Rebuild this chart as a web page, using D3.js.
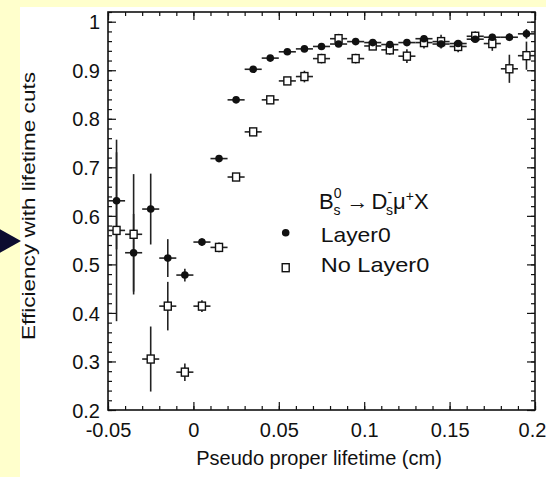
<!DOCTYPE html>
<html>
<head>
<meta charset="utf-8">
<script src="https://cdn.jsdelivr.net/npm/d3@7"></script>
<style>
  body { margin: 0; background: #ffffcc; }
  svg { display: block; }
  text { font-family: "Liberation Sans", Arial, sans-serif; fill: #111; }
</style>
</head>
<body>
<div id="chart"></div>
<script>
// bin centres (cm), bin half width is 0.005
var bins = [-0.045, -0.035, -0.025, -0.015, -0.005, 0.005, 0.015, 0.025, 0.035, 0.045, 0.055, 0.065,
            0.075, 0.085, 0.095, 0.105, 0.115, 0.125, 0.135, 0.145, 0.155, 0.165, 0.175, 0.185, 0.195]
var layer0 = [0.631, 0.524, 0.614, 0.513, 0.478, 0.546, 0.718, 0.839, 0.902, 0.925, 0.938, 0.944,
              0.949, 0.954, 0.959, 0.957, 0.953, 0.957, 0.965, 0.954, 0.955, 0.964, 0.968, 0.968, 0.975]
var layer0_err = [0.10, 0.08, 0.073, 0.039, 0.013, 0.008, 0.006, 0.006, 0.005, 0.005, 0.005, 0.005,
                  0.005, 0.005, 0.005, 0.005, 0.005, 0.005, 0.006, 0.006, 0.006, 0.006, 0.007, 0.008, 0.010]
var nolayer0 = [0.570, 0.562, 0.305, 0.414, 0.278, 0.414, 0.535, 0.680, 0.773, 0.839, 0.878, 0.887,
                0.924, 0.965, 0.924, 0.950, 0.942, 0.929, 0.957, 0.959, 0.949, 0.970, 0.955, 0.903, 0.930]
var nolayer0_err = [0.187, 0.124, 0.067, 0.050, 0.018, 0.012, 0.010, 0.008, 0.008, 0.008, 0.008, 0.012,
                    0.010, 0.010, 0.010, 0.008, 0.010, 0.014, 0.012, 0.014, 0.012, 0.010, 0.015, 0.029, 0.029]
var x_ticks = [-0.05, 0, 0.05, 0.1, 0.15, 0.2]
var x_tick_labels = ["-0.05", "0", "0.05", "0.1", "0.15", "0.2"]
var y_ticks = [0.2, 0.3, 0.4, 0.5, 0.6, 0.7, 0.8, 0.9, 1.0]
var y_tick_labels = ["0.2", "0.3", "0.4", "0.5", "0.6", "0.7", "0.8", "0.9", "1"]

var width = 546, height = 477
var bin_half = 0.005
var svg = d3.select("#chart").append("svg").attr("width", width).attr("height", height)

// white slide panel + the arrow sticking in from the left
svg.append("rect").attr("x", 20).attr("y", 7).attr("width", width - 20).attr("height", height - 7).attr("fill", "#fff")
svg.append("path").attr("d", "M-6,226L21,241L-6,256Z").attr("fill", "#0c0c30")

var x = d3.scaleLinear().domain([-0.05, 0.2]).range([108, 535])
var y = d3.scaleLinear().domain([0.2, 1.02]).range([410, 12])

var x_minor = d3.range(-0.05, 0.2001, 0.01)
var y_minor = d3.range(0.2, 1.0201, 0.02)

function fmt_x(d){ return x_tick_labels[x_ticks.indexOf(d)] }
function fmt_y(d){ return y_tick_labels[y_ticks.indexOf(d)] }

// ticks on all four sides, pointing inward
svg.append("g").attr("transform", "translate(0,410)")
    .call(d3.axisBottom(x).tickValues(x_minor).tickSize(-4).tickFormat(""))
svg.append("g").attr("transform", "translate(0,410)").attr("class", "xmaj")
    .call(d3.axisBottom(x).tickValues(x_ticks).tickSize(-8).tickPadding(12.5).tickFormat(fmt_x))
svg.append("g").attr("transform", "translate(0,12)")
    .call(d3.axisTop(x).tickValues(x_minor).tickSize(-4).tickFormat(""))
svg.append("g").attr("transform", "translate(0,12)")
    .call(d3.axisTop(x).tickValues(x_ticks).tickSize(-8).tickFormat(""))
svg.append("g").attr("transform", "translate(108,0)")
    .call(d3.axisLeft(y).tickValues(y_minor).tickSize(-4).tickFormat(""))
svg.append("g").attr("transform", "translate(108,0)").attr("class", "ymaj")
    .call(d3.axisLeft(y).tickValues(y_ticks).tickSize(-8).tickPadding(8).tickFormat(fmt_y))
svg.append("g").attr("transform", "translate(535,0)")
    .call(d3.axisRight(y).tickValues(y_minor).tickSize(-4).tickFormat(""))
svg.append("g").attr("transform", "translate(535,0)")
    .call(d3.axisRight(y).tickValues(y_ticks).tickSize(-8).tickFormat(""))

svg.selectAll(".domain").remove()
svg.selectAll(".tick line").attr("stroke", "#111").attr("stroke-width", 1.2)
svg.selectAll(".tick text").style("font-size", "20px").attr("fill", "#111")
svg.selectAll(".ymaj .tick text").attr("dy", "0.36em")
// last x label sits on the window edge, nudge it in a bit
svg.selectAll(".xmaj .tick text").filter(function(d){ return d === 0.2 }).attr("dx", -3)

svg.append("rect").attr("x", 108).attr("y", 12).attr("width", 427).attr("height", 398)
    .attr("fill", "none").attr("stroke", "#111").attr("stroke-width", 1.6)

// axis titles
svg.append("text").attr("x", 319).attr("y", 465).attr("text-anchor", "middle")
    .style("font-size", "20px").text("Pseudo proper lifetime (cm)")
svg.append("text").attr("transform", "translate(35,206) rotate(-90)").attr("text-anchor", "middle")
    .style("font-size", "18px").attr("textLength", 268).attr("lengthAdjust", "spacingAndGlyphs")
    .text("Efficiency with lifetime cuts")

// error bars then markers
function draw_errors(vals, errs, cls){
    var g = svg.append("g").attr("class", cls).attr("stroke", "#222").attr("stroke-width", 1.6)
    g.selectAll("line.h").data(bins).enter().append("line").attr("class", "h")
        .attr("x1", function(d){ return x(d - bin_half) })
        .attr("x2", function(d){ return x(d + bin_half) })
        .attr("y1", function(d, i){ return y(vals[i]) })
        .attr("y2", function(d, i){ return y(vals[i]) })
    g.selectAll("line.v").data(bins).enter().append("line").attr("class", "v")
        .attr("x1", function(d){ return x(d) })
        .attr("x2", function(d){ return x(d) })
        .attr("y1", function(d, i){ return y(vals[i] - errs[i]) })
        .attr("y2", function(d, i){ return y(vals[i] + errs[i]) })
}
draw_errors(nolayer0, nolayer0_err, "err-nl0")
draw_errors(layer0, layer0_err, "err-l0")

svg.append("g").selectAll("rect").data(bins).enter().append("rect")
    .attr("x", function(d){ return x(d) - 3.5 })
    .attr("y", function(d, i){ return y(nolayer0[i]) - 4 })
    .attr("width", 7).attr("height", 8)
    .attr("fill", "#fff").attr("stroke", "#111").attr("stroke-width", 1.4)

svg.append("g").selectAll("circle").data(bins).enter().append("circle")
    .attr("cx", function(d){ return x(d) })
    .attr("cy", function(d, i){ return y(layer0[i]) })
    .attr("r", 3.8).attr("fill", "#111")

// legend
var leg = svg.append("g")
var title = leg.append("text").attr("x", 319).attr("y", 209).style("font-size", "22px")
title.append("tspan").text("B")
title.append("tspan").attr("dy", -11).style("font-size", "14px").text("0")
title.append("tspan").attr("dx", -8).attr("dy", 17).style("font-size", "14px").text("s")
title.append("tspan").attr("dx", 6).attr("dy", -6).text("\u2192")
title.append("tspan").attr("dx", 3).text("D")
title.append("tspan").attr("dy", -12).style("font-size", "14px").text("-")
title.append("tspan").attr("dx", -6).attr("dy", 18).style("font-size", "14px").text("s")
title.append("tspan").attr("dy", -6).text("\u03bc")
title.append("tspan").attr("dy", -8).style("font-size", "14px").text("+")
title.append("tspan").attr("dy", 8).text("X")

leg.append("circle").attr("cx", 285.7).attr("cy", 232.7).attr("r", 3.8).attr("fill", "#111")
leg.append("rect").attr("x", 282.2).attr("y", 263.7).attr("width", 7).attr("height", 8)
    .attr("fill", "#fff").attr("stroke", "#111").attr("stroke-width", 1.4)
leg.append("text").attr("x", 320.7).attr("y", 241.7).style("font-size", "21px")
    .attr("textLength", 70).attr("lengthAdjust", "spacingAndGlyphs").text("Layer0")
leg.append("text").attr("x", 320.7).attr("y", 272.3).style("font-size", "21px")
    .attr("textLength", 108.6).attr("lengthAdjust", "spacingAndGlyphs").text("No Layer0")
</script>
</body>
</html>
